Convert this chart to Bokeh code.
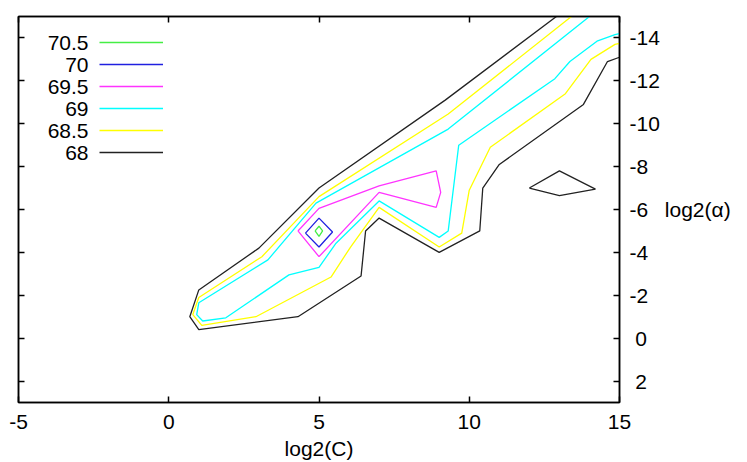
from bokeh.plotting import figure
from bokeh.models import Range1d, FixedTicker, LinearAxis, Label, Legend, LegendItem
from bokeh.embed import file_html
from bokeh.resources import INLINE

# ---- data ----------------------------------------------------------------
levels = ["70.5", "70", "69.5", "69", "68.5", "68"]
level_colors = ["#44ee44", "#2020e0", "#ff33ff", "#00ffff", "#ffff00", "#222222"]

# 70.5
c705_x = [4.87, 5.0, 5.12, 5.0, 4.87]
c705_y = [-5.0, -5.22, -5.0, -4.75, -5.0]
# 70
c70_x = [4.55, 5.0, 5.45, 5.0, 4.55]
c70_y = [-4.9, -5.6, -4.95, -4.25, -4.9]
# 69.5
c695_x = [4.3, 5.0, 7.0, 8.9, 9.05, 8.9, 7.0, 5.0, 4.3]
c695_y = [-5.0, -6.05, -7.1, -7.8, -6.8, -6.1, -6.8, -3.8, -5.0]
# 69
c69_x = [14.0, 9.3, 4.9, 3.3, 1.0, 0.93, 1.13, 1.9, 4.0, 5.0, 5.55, 7.0, 9.0, 9.3,
         9.65, 12.85, 13.35, 14.25, 14.85, 15.0]
c69_y = [-15.0, -9.75, -6.3, -3.65, -1.65, -1.1, -0.8, -0.95, -2.95, -3.3, -4.4, -6.4,
         -4.7, -5.0, -9.0, -12.1, -12.9, -13.85, -14.15, -14.2]
# 68.5
c685_x = [13.4, 9.3, 5.0, 3.1, 1.0, 0.8, 1.1, 2.9, 5.4, 6.05, 7.0, 9.0, 9.75, 10.0,
          10.7, 13.2, 14.05, 14.85, 15.0]
c685_y = [-15.0, -10.45, -6.6, -3.8, -1.9, -1.1, -0.6, -1.0, -2.85, -4.25, -6.1, -4.25,
          -4.9, -6.9, -8.9, -11.4, -13.0, -13.7, -13.75]
# 68 (main band and small island)
c68a_x = [12.9, 9.2, 5.0, 3.0, 1.0, 0.7, 1.0, 4.3, 6.4, 6.55, 7.0, 9.0, 10.35, 10.45,
          11.0, 13.8, 14.6, 15.0]
c68a_y = [-15.0, -11.1, -7.0, -4.2, -2.25, -1.0, -0.4, -1.0, -2.9, -5.0, -5.6, -4.0,
          -5.0, -7.0, -8.1, -10.9, -12.9, -13.1]
c68b_x = [12.0, 13.0, 14.2, 13.0, 12.0]
c68b_y = [-7.0, -7.8, -6.95, -6.65, -7.0]

contours = [
    [(c705_x, c705_y)],
    [(c70_x, c70_y)],
    [(c695_x, c695_y)],
    [(c69_x, c69_y)],
    [(c685_x, c685_y)],
    [(c68a_x, c68a_y), (c68b_x, c68b_y)],
]

x_ticks = [-5, 0, 5, 10, 15]
x_tick_labels = ["-5", "0", "5", "10", "15"]
y_ticks = [-14, -12, -10, -8, -6, -4, -2, 0, 2]
y_tick_labels = ["-14", "-12", "-10", "-8", "-6", "-4", "-2", "\u00a00", "\u00a02"]

x_title = "log2(C)"
y_title = "log2(\u03b1)"

FONT = "Liberation Sans"
FS = "21px"

# ---- figure ----------------------------------------------------------------
p = figure(width=747, height=462, x_range=Range1d(-5, 15), y_range=Range1d(3, -15),
           y_axis_location="right", output_backend="svg", toolbar_location=None,
           min_border_left=18, min_border_right=128, min_border_top=16,
           min_border_bottom=59)
p.xgrid.visible = False
p.ygrid.visible = False
p.outline_line_color = "black"
p.outline_line_width = 1.5
p.background_fill_color = "white"
p.border_fill_color = "white"

p.add_layout(LinearAxis(), "left")
p.add_layout(LinearAxis(), "above")

for ax in p.xaxis:
    ax.ticker = FixedTicker(ticks=x_ticks)
    ax.major_label_overrides = dict(zip(x_ticks, x_tick_labels))
for ax in p.yaxis:
    ax.ticker = FixedTicker(ticks=y_ticks)
    ax.major_label_overrides = dict(zip(y_ticks, y_tick_labels))
for ax in p.axis:
    ax.major_tick_in = 6
    ax.major_tick_out = 0
    ax.minor_tick_line_color = None
    ax.axis_line_color = "black"
    ax.axis_line_width = 1.5
    ax.major_tick_line_color = "black"
    ax.major_tick_line_width = 1.5
    ax.major_label_text_font = FONT
    ax.major_label_text_font_size = FS
    ax.major_label_text_color = "black"
for ax in (p.left[0], p.above[0]):
    ax.major_label_text_font_size = "0px"
    ax.major_label_text_color = None
    ax.major_label_standoff = 0

bottom = p.below[0]
bottom.major_label_standoff = 12
bottom.axis_label = x_title
bottom.axis_label_standoff = 5
bottom.axis_label_text_font = FONT
bottom.axis_label_text_font_size = FS
bottom.axis_label_text_font_style = "normal"
bottom.axis_label_text_color = "black"

right = p.right[0]
right.major_label_standoff = 10
right.major_label_text_align = "left"
right.axis_label = y_title
right.axis_label_standoff = 2
right.axis_label_orientation = "horizontal"
right.axis_label_text_font = FONT
right.axis_label_text_font_size = FS
right.axis_label_text_font_style = "normal"
right.axis_label_text_color = "black"

# ---- contours ----------------------------------------------------------------
renderers = []
for paths, col in zip(contours, level_colors):
    r = p.multi_line(xs=[pth[0] for pth in paths], ys=[pth[1] for pth in paths],
                     line_color=col, line_width=1.3)
    renderers.append(r)

# ---- key (value text to the left of the line sample) --------------------------
frame_h = 387
key_top = 17
row_h = 20
row_gap = 2
legend = Legend(items=[LegendItem(label=" ", renderers=[r]) for r in renderers],
                location=(81, frame_h - key_top - len(levels) * row_h - (len(levels) - 1) * row_gap),
                glyph_width=64, glyph_height=row_h, label_height=row_h, label_width=0,
                label_standoff=0, spacing=row_gap, padding=0, margin=0,
                border_line_alpha=0, background_fill_alpha=0, label_text_font_size="1px")
p.add_layout(legend)
for i, lab in enumerate(levels):
    p.add_layout(Label(x=70, y=frame_h - key_top - row_h / 2 - i * (row_h + row_gap),
                       x_units="screen", y_units="screen", text=lab,
                       text_align="right", text_baseline="middle",
                       text_font=FONT, text_font_size=FS, text_color="black"))

open("out.html", "w").write(file_html(p, INLINE))
